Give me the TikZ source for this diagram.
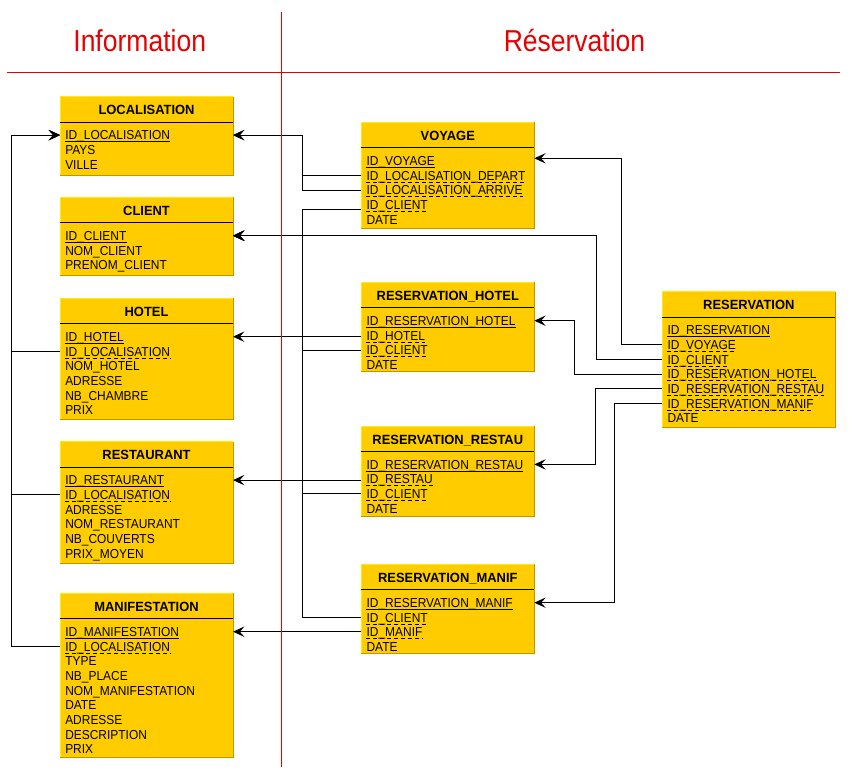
\documentclass[tikz,border=0pt]{standalone}
\usepackage{fontspec}
\setmainfont{Liberation Sans}
\newfontfamily\rowfont{Liberation Sans}[FakeStretch=0.92]
\newfontfamily\ttlfont{Liberation Sans}[FakeStretch=0.97]
\newfontfamily\hdrfont{Liberation Sans}[FakeStretch=0.876]
\usetikzlibrary{arrows.meta,calc}
\definecolor{tblfill}{RGB}{255,204,0}
\definecolor{tbllight}{RGB}{255,236,0}
\definecolor{tbldark}{RGB}{190,150,0}
\definecolor{hdrred}{RGB}{230,0,0}
\tikzset{
  tblbox/.style={fill=tblfill, draw=none, inner sep=0pt, minimum width=172.5*0.75pt},
  ttl/.style={inner sep=0pt, text height=7.4pt, text depth=0pt, font=\ttlfont\bfseries\fontsize{10}{12}\selectfont},
  row/.style={anchor=west, inner sep=0pt, text height=9pt, text depth=1.95pt, font=\rowfont\fontsize{9.75}{11}\selectfont},
  sep/.style={draw=black, line width=0.75pt},
  ulp/.style={draw=black, line width=0.75pt},
  ulf/.style={draw=black, line width=0.75pt, dash pattern=on 3pt off 2.25pt},
  uln/.style={draw=none},
  conn/.style={draw=black, line width=0.75pt},
  arr/.style={conn, -{Stealth[length=8.5pt,width=7.8pt,inset=3.4pt]}},
  redline/.style={draw=hdrred, line width=0.75pt},
  hdr/.style={text=hdrred, inner sep=0pt, anchor=base, font=\hdrfont\fontsize{22.7}{26}\selectfont}
}
\newcommand\ertable[6]{%
  \pgfmathsetmacro\tblh{(#4-#3)*0.75}%
  \node[tblbox, minimum height=\tblh pt, anchor=north west] (#1) at (#2,#3) {};
  \draw[tbllight, line width=0.75pt] (#1.south west) -- (#1.north west) -- (#1.north east);
  \draw[tbldark, line width=0.75pt] (#1.north east) -- (#1.south east) -- (#1.south west);
  \node[ttl] (#1-t) at ($(#1.north)+(0,13.2)$) {#5};
  \draw[sep] ($(#1.north west)+(0,25.6)$) -- ($(#1.north east)+(0,25.6)$);
  \foreach \ulk/\txt [count=\i] in {#6} {
    \pgfmathsetmacro\rowy{38.4+(\i-1)*14.68}
    \node[row] (#1-\i) at ($(#1.north west)+(5,\rowy)$) {\txt};
    \draw[ul\ulk] ([yshift=-1.5pt]#1-\i.base west) -- ([yshift=-1.5pt]#1-\i.base east);
  }
}
\begin{document}
\begin{tikzpicture}[x=0.75pt,y=-0.75pt]
\useasboundingbox (0,0) rectangle (855,773);

% headings
\node[hdr] (hinfo) at (139.7,51.7) {Information};
\node[hdr] (hresa) at (574.5,51.7) {Réservation};

% tables
\ertable{loc}{60}{96.7}{175.3}{LOCALISATION}{p/ID\_LOCALISATION, n/PAYS, n/VILLE}
\ertable{cli}{60}{197.3}{275.3}{CLIENT}{p/ID\_CLIENT, n/NOM\_CLIENT, n/PRENOM\_CLIENT}
\ertable{hot}{60}{298.3}{419.3}{HOTEL}{p/ID\_HOTEL, f/ID\_LOCALISATION, n/NOM\_HOTEL, n/ADRESSE, n/NB\_CHAMBRE, n/PRIX}
\ertable{res}{60}{441.7}{562.7}{RESTAURANT}{p/ID\_RESTAURANT, f/ID\_LOCALISATION, n/ADRESSE, n/NOM\_RESTAURANT, n/NB\_COUVERTS, n/PRIX\_MOYEN}
\ertable{man}{60}{593.3}{757.3}{MANIFESTATION}{p/ID\_MANIFESTATION, f/ID\_LOCALISATION, n/TYPE, n/NB\_PLACE, n/NOM\_MANIFESTATION, n/DATE, n/ADRESSE, n/DESCRIPTION, n/PRIX}
\ertable{voy}{361.3}{122.3}{228.3}{VOYAGE}{p/ID\_VOYAGE, f/ID\_LOCALISATION\_DEPART, f/ID\_LOCALISATION\_ARRIVE, f/ID\_CLIENT, n/DATE}
\ertable{rhot}{361.3}{282.3}{371}{RESERVATION\_HOTEL}{p/ID\_RESERVATION\_HOTEL, f/ID\_HOTEL, f/ID\_CLIENT, n/DATE}
\ertable{rres}{361.3}{426}{515.7}{RESERVATION\_RESTAU}{p/ID\_RESERVATION\_RESTAU, f/ID\_RESTAU, f/ID\_CLIENT, n/DATE}
\ertable{rman}{361.3}{564.3}{653.3}{RESERVATION\_MANIF}{p/ID\_RESERVATION\_MANIF, f/ID\_CLIENT, f/ID\_MANIF, n/DATE}
\ertable{rsv}{662.3}{291.7}{426.7}{RESERVATION}{p/ID\_RESERVATION, f/ID\_VOYAGE, f/ID\_CLIENT, f/ID\_RESERVATION\_HOTEL, f/ID\_RESERVATION\_RESTAU, f/ID\_RESERVATION\_MANIF, n/DATE}

% bus columns
\coordinate (lbus) at (11.7,0);
\coordinate (cbus) at (302.3,0);
\coordinate (bvoy) at (621.7,0);
\coordinate (bcli) at (596,0);
\coordinate (bhot) at (574.3,0);
\coordinate (bres) at (595,0);
\coordinate (bman) at (614.3,0);

% localisation links (left)
\draw[arr] (hot-2 -| hot.west) -- (hot-2 -| lbus) -- (loc-1 -| lbus) -- (loc-1 -| loc.west);
\draw[arr] (res-2 -| res.west) -- (res-2 -| lbus) -- (loc-1 -| lbus) -- (loc-1 -| loc.west);
\draw[arr] (man-2 -| man.west) -- (man-2 -| lbus) -- (loc-1 -| lbus) -- (loc-1 -| loc.west);

% voyage links
\draw[arr] (voy-2 -| voy.west) -- (voy-2 -| cbus) -- (loc-1 -| cbus) -- (loc-1 -| loc.east);
\draw[arr] (voy-3 -| voy.west) -- (voy-3 -| cbus) -- (loc-1 -| cbus) -- (loc-1 -| loc.east);
\coordinate (vcli) at ($(voy-4 -| voy.west)+(0,5)$);
\draw[arr] (vcli) -- (vcli -| cbus) -- (cli-1 -| cbus) -- (cli-1 -| cli.east);

% client links
\draw[arr] (rhot-3 -| rhot.west) -- (rhot-3 -| cbus) -- (cli-1 -| cbus) -- (cli-1 -| cli.east);
\draw[arr] (rres-3 -| rres.west) -- (rres-3 -| cbus) -- (cli-1 -| cbus) -- (cli-1 -| cli.east);
\draw[arr] (rman-2 -| rman.west) -- (rman-2 -| cbus) -- (cli-1 -| cbus) -- (cli-1 -| cli.east);

% straight links
\draw[arr] (hot-1 -| rhot.west) -- (hot-1 -| hot.east);
\draw[arr] (res-1 -| rres.west) -- (res-1 -| res.east);
\draw[arr] (man-1 -| rman.west) -- (man-1 -| man.east);

% reservation links
\coordinate (voyin) at ($(voy-1 -| voy.east)+(0,-2.4)$);
\draw[arr] (rsv-2 -| rsv.west) -- (rsv-2 -| bvoy) -- (voyin -| bvoy) -- (voyin);
\draw[arr] (rsv-3 -| rsv.west) -- (rsv-3 -| bcli) -- (cli-1 -| bcli) -- (cli-1 -| cli.east);
\draw[arr] (rsv-4 -| rsv.west) -- (rsv-4 -| bhot) -- (rhot-1 -| bhot) -- (rhot-1 -| rhot.east);
\draw[arr] (rsv-5 -| rsv.west) -- (rsv-5 -| bres) -- (rres-1 -| bres) -- (rres-1 -| rres.east);
\draw[arr] (rsv-6 -| rsv.west) -- (rsv-6 -| bman) -- (rman-1 -| bman) -- (rman-1 -| rman.east);

% section rules
\coordinate (hl) at (7,72.7);
\coordinate (hr) at (840,72.7);
\coordinate (vt) at (281.5,12);
\coordinate (vb) at (281.5,766.7);
\draw[redline] (hl) -- (hr);
\draw[redline] (vt) -- (vb);
\end{tikzpicture}
\end{document}
